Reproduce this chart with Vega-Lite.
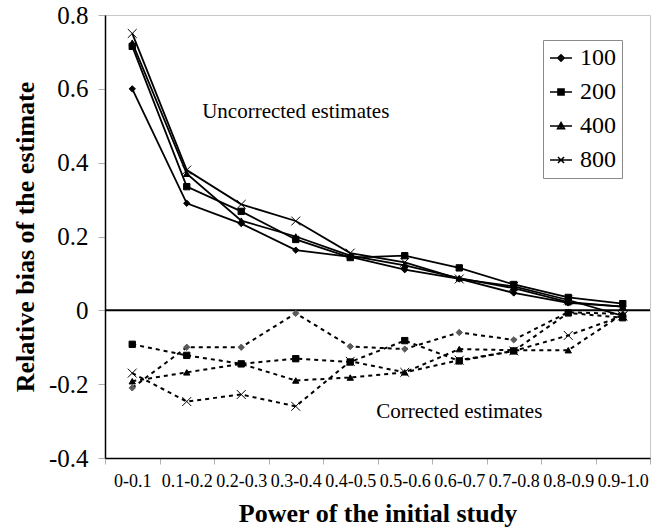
{
  "$schema": "https://vega.github.io/schema/vega-lite/v6.json",
  "autosize": {"type": "none"},
  "padding": {"left": 105, "top": 15, "right": 4, "bottom": 73},
  "width": 545,
  "height": 443,
  "background": "white",
  "config": {
    "view": {"stroke": "#c8c8c8", "strokeWidth": 1},
    "font": "Liberation Serif",
    "axis": {"labelFont": "Liberation Serif", "titleFont": "Liberation Serif"},
    "legend": {"labelFont": "Liberation Serif"}
  },
  "datasets": {
    "bias": [
      {"p": "0-0.1", "n": "100", "t": "U", "b": 0.60},
      {"p": "0.1-0.2", "n": "100", "t": "U", "b": 0.29},
      {"p": "0.2-0.3", "n": "100", "t": "U", "b": 0.235},
      {"p": "0.3-0.4", "n": "100", "t": "U", "b": 0.163},
      {"p": "0.4-0.5", "n": "100", "t": "U", "b": 0.145},
      {"p": "0.5-0.6", "n": "100", "t": "U", "b": 0.11},
      {"p": "0.6-0.7", "n": "100", "t": "U", "b": 0.085},
      {"p": "0.7-0.8", "n": "100", "t": "U", "b": 0.047},
      {"p": "0.8-0.9", "n": "100", "t": "U", "b": 0.02},
      {"p": "0.9-1.0", "n": "100", "t": "U", "b": 0.01},
      {"p": "0-0.1", "n": "200", "t": "U", "b": 0.715},
      {"p": "0.1-0.2", "n": "200", "t": "U", "b": 0.335},
      {"p": "0.2-0.3", "n": "200", "t": "U", "b": 0.268},
      {"p": "0.3-0.4", "n": "200", "t": "U", "b": 0.192},
      {"p": "0.4-0.5", "n": "200", "t": "U", "b": 0.143},
      {"p": "0.5-0.6", "n": "200", "t": "U", "b": 0.148},
      {"p": "0.6-0.7", "n": "200", "t": "U", "b": 0.115},
      {"p": "0.7-0.8", "n": "200", "t": "U", "b": 0.07},
      {"p": "0.8-0.9", "n": "200", "t": "U", "b": 0.035},
      {"p": "0.9-1.0", "n": "200", "t": "U", "b": 0.018},
      {"p": "0-0.1", "n": "400", "t": "U", "b": 0.725},
      {"p": "0.1-0.2", "n": "400", "t": "U", "b": 0.37},
      {"p": "0.2-0.3", "n": "400", "t": "U", "b": 0.243},
      {"p": "0.3-0.4", "n": "400", "t": "U", "b": 0.2},
      {"p": "0.4-0.5", "n": "400", "t": "U", "b": 0.148},
      {"p": "0.5-0.6", "n": "400", "t": "U", "b": 0.122},
      {"p": "0.6-0.7", "n": "400", "t": "U", "b": 0.087},
      {"p": "0.7-0.8", "n": "400", "t": "U", "b": 0.06},
      {"p": "0.8-0.9", "n": "400", "t": "U", "b": 0.022},
      {"p": "0.9-1.0", "n": "400", "t": "U", "b": 0.01},
      {"p": "0-0.1", "n": "800", "t": "U", "b": 0.75},
      {"p": "0.1-0.2", "n": "800", "t": "U", "b": 0.38},
      {"p": "0.2-0.3", "n": "800", "t": "U", "b": 0.287},
      {"p": "0.3-0.4", "n": "800", "t": "U", "b": 0.242},
      {"p": "0.4-0.5", "n": "800", "t": "U", "b": 0.155},
      {"p": "0.5-0.6", "n": "800", "t": "U", "b": 0.13},
      {"p": "0.6-0.7", "n": "800", "t": "U", "b": 0.085},
      {"p": "0.7-0.8", "n": "800", "t": "U", "b": 0.065},
      {"p": "0.8-0.9", "n": "800", "t": "U", "b": 0.028},
      {"p": "0.9-1.0", "n": "800", "t": "U", "b": -0.015},
      {"p": "0-0.1", "n": "100", "t": "C", "b": -0.21},
      {"p": "0.1-0.2", "n": "100", "t": "C", "b": -0.1},
      {"p": "0.2-0.3", "n": "100", "t": "C", "b": -0.1},
      {"p": "0.3-0.4", "n": "100", "t": "C", "b": -0.008},
      {"p": "0.4-0.5", "n": "100", "t": "C", "b": -0.098},
      {"p": "0.5-0.6", "n": "100", "t": "C", "b": -0.105},
      {"p": "0.6-0.7", "n": "100", "t": "C", "b": -0.06},
      {"p": "0.7-0.8", "n": "100", "t": "C", "b": -0.08},
      {"p": "0.8-0.9", "n": "100", "t": "C", "b": -0.005},
      {"p": "0.9-1.0", "n": "100", "t": "C", "b": -0.01},
      {"p": "0-0.1", "n": "200", "t": "C", "b": -0.092},
      {"p": "0.1-0.2", "n": "200", "t": "C", "b": -0.122},
      {"p": "0.2-0.3", "n": "200", "t": "C", "b": -0.145},
      {"p": "0.3-0.4", "n": "200", "t": "C", "b": -0.131},
      {"p": "0.4-0.5", "n": "200", "t": "C", "b": -0.14},
      {"p": "0.5-0.6", "n": "200", "t": "C", "b": -0.082},
      {"p": "0.6-0.7", "n": "200", "t": "C", "b": -0.137},
      {"p": "0.7-0.8", "n": "200", "t": "C", "b": -0.11},
      {"p": "0.8-0.9", "n": "200", "t": "C", "b": -0.007},
      {"p": "0.9-1.0", "n": "200", "t": "C", "b": -0.02},
      {"p": "0-0.1", "n": "400", "t": "C", "b": -0.192},
      {"p": "0.1-0.2", "n": "400", "t": "C", "b": -0.168},
      {"p": "0.2-0.3", "n": "400", "t": "C", "b": -0.145},
      {"p": "0.3-0.4", "n": "400", "t": "C", "b": -0.19},
      {"p": "0.4-0.5", "n": "400", "t": "C", "b": -0.182},
      {"p": "0.5-0.6", "n": "400", "t": "C", "b": -0.168},
      {"p": "0.6-0.7", "n": "400", "t": "C", "b": -0.105},
      {"p": "0.7-0.8", "n": "400", "t": "C", "b": -0.108},
      {"p": "0.8-0.9", "n": "400", "t": "C", "b": -0.108},
      {"p": "0.9-1.0", "n": "400", "t": "C", "b": -0.01},
      {"p": "0-0.1", "n": "800", "t": "C", "b": -0.17},
      {"p": "0.1-0.2", "n": "800", "t": "C", "b": -0.247},
      {"p": "0.2-0.3", "n": "800", "t": "C", "b": -0.228},
      {"p": "0.3-0.4", "n": "800", "t": "C", "b": -0.26},
      {"p": "0.4-0.5", "n": "800", "t": "C", "b": -0.138},
      {"p": "0.5-0.6", "n": "800", "t": "C", "b": -0.168},
      {"p": "0.6-0.7", "n": "800", "t": "C", "b": -0.135},
      {"p": "0.7-0.8", "n": "800", "t": "C", "b": -0.11},
      {"p": "0.8-0.9", "n": "800", "t": "C", "b": -0.068},
      {"p": "0.9-1.0", "n": "800", "t": "C", "b": -0.015}
    ],
    "notes": [
      {"p": "0.3-0.4", "b": 0.537, "label": "Uncorrected estimates"},
      {"p": "0.6-0.7", "b": -0.275, "label": "Corrected estimates"}
    ]
  },
  "encoding": {
    "x": {
      "field": "p", "type": "nominal",
      "scale": {"type": "band", "paddingInner": 0, "paddingOuter": 0,
        "domain": ["0-0.1", "0.1-0.2", "0.2-0.3", "0.3-0.4", "0.4-0.5", "0.5-0.6", "0.6-0.7", "0.7-0.8", "0.8-0.9", "0.9-1.0"]},
      "axis": {
        "title": "Power of the initial study",
        "titleFont": "Liberation Serif", "titleFontSize": 26, "titleFontWeight": "bold", "titleColor": "black",
        "titlePadding": 10,
        "labelAngle": 0, "labelFont": "Liberation Serif", "labelFontSize": 18, "labelColor": "black", "labelPadding": 8,
        "tickBand": "extent", "tickColor": "#b0b0b0", "tickSize": 6,
        "domainColor": "black", "domainWidth": 1.5, "grid": false,
        "encode": {"labels": {"update": {"fontSize": {"value": 18}, "font": {"value": "Liberation Serif"}}}}
      }
    },
    "y": {
      "field": "b", "type": "quantitative",
      "scale": {"domain": [-0.4, 0.8], "nice": false, "zero": false},
      "axis": {
        "title": "Relative bias of the estimate",
        "titleFont": "Liberation Serif", "titleFontSize": 26, "titleFontWeight": "bold", "titleColor": "black",
        "titlePadding": 10,
        "values": [-0.4, -0.2, 0, 0.2, 0.4, 0.6, 0.8],
        "labelExpr": "datum.value == 0 ? '0' : (datum.value < 0 ? '-' : '') + format(abs(datum.value), '.1f')",
        "labelFont": "Liberation Serif", "labelFontSize": 25, "labelColor": "black", "labelPadding": 10,
        "tickColor": "#b0b0b0", "tickSize": 7,
        "domainColor": "black", "domainWidth": 1.5, "grid": false,
        "encode": {"labels": {"update": {"fontSize": {"value": 25}, "font": {"value": "Liberation Serif"}}}}
      }
    }
  },
  "layer": [
    {
      "data": {"name": "bias"},
      "transform": [{"filter": "datum.t == 'C'"}],
      "mark": {"type": "line", "color": "black", "strokeWidth": 2, "strokeDash": [4, 4]},
      "encoding": {"detail": {"field": "n"}}
    },
    {
      "data": {"name": "bias"},
      "transform": [{"filter": "datum.t == 'U'"}],
      "mark": {"type": "line", "color": "black", "strokeWidth": 1.8},
      "encoding": {"detail": {"field": "n"}}
    },
    {
      "data": {"values": [{"z": 0}]},
      "mark": {"type": "rule", "color": "black", "strokeWidth": 2},
      "encoding": {"y": {"field": "z", "type": "quantitative"}, "x": null}
    },
    {
      "data": {"name": "bias"},
      "transform": [{"filter": "datum.t == 'C'"}],
      "mark": {"type": "point", "filled": true, "size": 40, "strokeWidth": 1, "opacity": 1},
      "encoding": {
        "shape": {"field": "n", "type": "nominal", "legend": null,
          "scale": {"domain": ["100", "200", "400", "800"], "range": ["diamond", "square", "triangle-up", "M-1.4,-1.4L1.4,1.4M-1.4,1.4L1.4,-1.4"]}},
        "color": {"condition": {"test": "datum.n == '100'", "value": "#5a5a5a"}, "value": "black"},
        "stroke": {"condition": {"test": "datum.n == '100'", "value": "#5a5a5a"}, "value": "black"}
      }
    },
    {
      "data": {"name": "bias"},
      "transform": [{"filter": "datum.t == 'U'"}],
      "mark": {"type": "point", "filled": true, "size": 40, "color": "black", "stroke": "black", "strokeWidth": 1, "opacity": 1},
      "encoding": {
        "shape": {"field": "n", "type": "nominal", "legend": null,
          "scale": {"domain": ["100", "200", "400", "800"], "range": ["diamond", "square", "triangle-up", "M-1.4,-1.4L1.4,1.4M-1.4,1.4L1.4,-1.4"]}}
      }
    },
    {
      "data": {"name": "bias"},
      "transform": [{"filter": "datum.t == 'U'"}],
      "mark": {"type": "point", "filled": false, "color": "black", "strokeWidth": 1.5, "opacity": 0},
      "encoding": {
        "shape": {"field": "n", "type": "nominal",
          "scale": {"domain": ["100", "200", "400", "800"], "range": [
            "M-1,0H1M0,-0.3L0.3,0L0,0.3L-0.3,0ZM0,-0.3V0.3M-0.15,-0.15H0.15M-0.15,0.15H0.15",
            "M-1,0H1M-0.28,-0.28H0.28V0.28H-0.28ZM-0.28,-0.14H0.28M-0.28,0.14H0.28",
            "M-1,0H1M0,-0.32L0.32,0.26H-0.32ZM0,-0.32V0.26M-0.12,-0.1H0.12M-0.22,0.08H0.22",
            "M-1,0H1M-0.28,-0.28L0.28,0.28M-0.28,0.28L0.28,-0.28"]},
          "legend": {
            "title": null, "orient": "none", "legendX": 438, "legendY": 25,
            "strokeColor": "#8a8a8a", "fillColor": "white", "padding": 6, "rowPadding": 10,
            "labelFont": "Liberation Serif", "labelFontSize": 24, "labelColor": "black", "labelOffset": 7,
            "symbolSize": 484, "symbolOpacity": 1, "symbolFillColor": "black", "symbolStrokeColor": "black", "symbolStrokeWidth": 1.5,
            "encode": {
              "symbols": {
                "enter": {"fill": {"value": "black"}, "stroke": {"value": "black"}, "strokeWidth": {"value": 1.5}, "opacity": {"value": 1}},
                "update": {"fill": {"value": "black"}, "stroke": {"value": "black"}, "strokeWidth": {"value": 1.5}, "opacity": {"value": 1}}
              },
              "labels": {"update": {"fontSize": {"value": 24}, "font": {"value": "Liberation Serif"}}}
            }
          }
        }
      }
    },
    {
      "data": {"name": "notes"},
      "mark": {"type": "text", "font": "Liberation Serif", "fontSize": 21, "color": "black", "align": "center", "baseline": "middle"},
      "encoding": {"text": {"field": "label"}}
    }
  ],
  "resolve": {"scale": {"shape": "independent"}}
}
